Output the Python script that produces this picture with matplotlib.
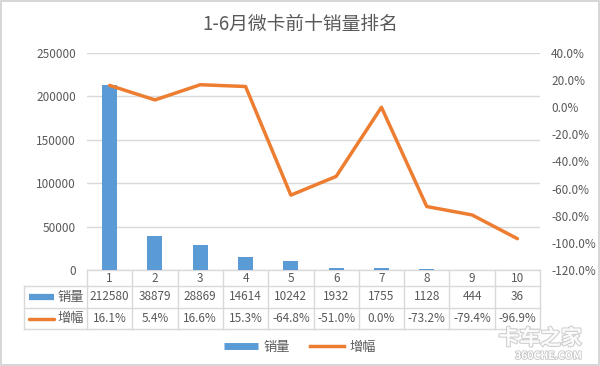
import matplotlib
matplotlib.use("Agg")
import matplotlib.pyplot as plt
from matplotlib.lines import Line2D
from matplotlib.patches import Rectangle
from matplotlib.ticker import FuncFormatter, MultipleLocator

plt.rcParams['font.family'] = ['Noto Sans CJK SC', 'DejaVu Sans']

categories = ['1', '2', '3', '4', '5', '6', '7', '8', '9', '10']
sales = [212580, 38879, 28869, 14614, 10242, 1932, 1755, 1128, 444, 36]
growth = [16.1, 5.4, 16.6, 15.3, -64.8, -51.0, 0.0, -73.2, -79.4, -96.9]
title = '1-6月微卡前十销量排名'
series_names = ['销量', '增幅']

BLUE = '#5B9BD5'
ORANGE = '#ED7D31'
GRID = '#D9D9D9'
TXT = '#595959'

fig = plt.figure(figsize=(6, 3.66), dpi=100)
fig.patch.set_facecolor('white')
fig.patches.append(Rectangle((0.002, 0.003), 0.996, 0.994, transform=fig.transFigure,
                             fill=False, edgecolor='#D0D0D0', linewidth=1.2))

ax = fig.add_axes([87/600, 1-270/366, (540-87)/600, (270-53)/366])
x = list(range(1, len(categories)+1))
ax.bar(x, sales, width=0.33, color=BLUE, zorder=3)
ax.set_xlim(0.5, len(categories)+0.5)
ax.set_ylim(0, 250000)
ax.yaxis.set_major_locator(MultipleLocator(50000))
ax.grid(axis='y', color=GRID, linewidth=1, zorder=0)
ax.set_xticks([])
for s in ax.spines.values():
    s.set_visible(False)
ax.tick_params(axis='y', length=0, labelsize=8.5, labelcolor=TXT, pad=8)

ax2 = ax.twinx()
ax2.plot(x, growth, color=ORANGE, linewidth=2.5, zorder=4, solid_capstyle='round')
ax2.set_ylim(-120, 40)
ax2.yaxis.set_major_locator(MultipleLocator(20))
ax2.yaxis.set_major_formatter(FuncFormatter(lambda v, p: f'{v:.1f}%'))
ax2.tick_params(axis='y', length=0, labelsize=8.5, labelcolor=TXT, pad=8)
for s in ax2.spines.values():
    s.set_visible(False)

# data table
n = len(categories)
h_px = 217.0
y0 = 0.0
y1 = -16/h_px
y2 = -38/h_px
y3 = -59/h_px
xl = (24-87)/453.0
kw = dict(transform=ax.transAxes, clip_on=False, color=GRID, linewidth=1)
ax.plot([0, 1], [y0, y0], **kw)
for yy in (y1, y2, y3):
    ax.plot([xl, 1], [yy, yy], **kw)
for k in range(n+1):
    ax.plot([k/n, k/n], [y0, y3], **kw)
ax.plot([xl, xl], [y1, y3], **kw)

tk = dict(transform=ax.transAxes, ha='center', va='center', fontsize=8.5, color=TXT, clip_on=False)
for i in range(n):
    cx = (i+0.5)/n
    ax.text(cx, (y0+y1)/2, categories[i], **tk)
    ax.text(cx, (y1+y2)/2, str(sales[i]), **tk)
    ax.text(cx, (y2+y3)/2, f'{growth[i]:.1f}%', **tk)

# row labels with swatches
sx0 = (29-87)/453.0
sx1 = (54-87)/453.0
ax.plot([sx0, sx1], [(y1+y2)/2]*2, transform=ax.transAxes, clip_on=False, color=BLUE,
        linewidth=4.5, solid_capstyle='butt')
ax.plot([sx0, sx1], [(y2+y3)/2]*2, transform=ax.transAxes, clip_on=False, color=ORANGE,
        linewidth=2.5, solid_capstyle='round')
lk = dict(transform=ax.transAxes, ha='left', va='center', fontsize=9.5, color=TXT, clip_on=False)
ax.text((57-87)/453.0, (y1+y2)/2, series_names[0], **lk)
ax.text((57-87)/453.0, (y2+y3)/2, series_names[1], **lk)

fig.text(0.5, 1-24/366, title, ha='center', va='center', fontsize=13.5, color=TXT)

handles = [Line2D([0], [0], color=BLUE, linewidth=5, solid_capstyle='butt'),
           Line2D([0], [0], color=ORANGE, linewidth=2.5)]
fig.legend(handles, series_names, loc='center', bbox_to_anchor=(0.5, 1-347/366), ncol=2,
           frameon=False, fontsize=9.5, labelcolor=TXT, handlelength=2.6, columnspacing=1.5,
           handletextpad=0.4)

fig.text(0.97, 1-338/366, '卡车之家', ha='right', va='center', fontsize=15, color='white',
         fontweight='bold', alpha=0.9,
         path_effects=[__import__('matplotlib.patheffects', fromlist=['x']).withStroke(linewidth=1.5, foreground='#C8C8C8')])
fig.text(0.97, 1-356/366, '360CHE.COM', ha='right', va='center', fontsize=7.5, color='white',
         fontweight='bold',
         path_effects=[__import__('matplotlib.patheffects', fromlist=['x']).withStroke(linewidth=1.2, foreground='#C8C8C8')])

fig.savefig('out.png', dpi=100, facecolor='white')
